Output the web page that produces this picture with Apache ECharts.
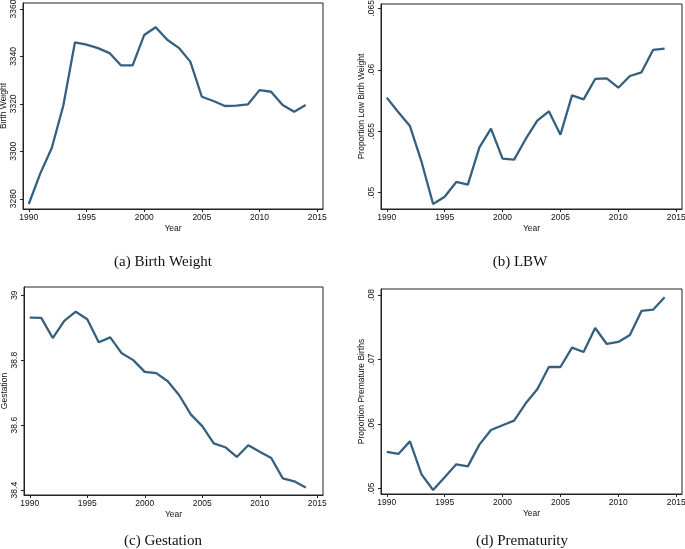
<!DOCTYPE html>
<html>
<head>
<meta charset="utf-8">
<script src="https://cdn.jsdelivr.net/npm/echarts@6/dist/echarts.min.js"></script>
<style>
html,body{margin:0;padding:0;background:#fff;}
#chart{width:685px;height:549px;}
</style>
</head>
<body>
<div id="chart"></div>
<script>
const years = [1990,1991,1992,1993,1994,1995,1996,1997,1998,1999,2000,2001,2002,2003,2004,2005,2006,2007,2008,2009,2010,2011,2012,2013,2014];
const birthWeight = [3277.8,3290.7,3301.5,3319.4,3345.9,3345.0,3343.5,3341.4,3336.2,3336.2,3349.0,3352.3,3347.0,3343.6,3337.8,3323.0,3321.2,3319.1,3319.3,3319.8,3325.8,3325.1,3319.5,3316.7,3319.5];
const lbw = [0.05773,0.05654,0.05542,0.05252,0.04908,0.04967,0.05087,0.05065,0.05369,0.05521,0.05277,0.05269,0.05437,0.05586,0.05662,0.05472,0.05792,0.05759,0.05925,0.05930,0.05854,0.05949,0.05979,0.06161,0.06172];
const gestation = [38.931,38.930,38.868,38.921,38.949,38.926,38.855,38.870,38.821,38.800,38.764,38.760,38.735,38.692,38.633,38.597,38.544,38.532,38.502,38.538,38.518,38.499,38.436,38.427,38.408];
const premature = [0.05564,0.05533,0.05729,0.05217,0.04974,0.05171,0.05372,0.05341,0.05678,0.05905,0.05978,0.06050,0.06319,0.06536,0.06883,0.06883,0.07183,0.07116,0.07488,0.07240,0.07271,0.07379,0.07752,0.07772,0.07964];

const xTicks = [1990,1995,2000,2005,2010,2015];
const bwTicks = [3280,3300,3320,3340,3360];
const lbwTicks = [0.05,0.055,0.06,0.065];
const gestTicks = [38.4,38.6,38.8,39];
const premTicks = [0.05,0.06,0.07,0.08];

const yTitles = ['Birth Weight','Proportion Low Birth Weight','Gestation','Proportion Premature Births'];
const captions = ['(a) Birth Weight','(b) LBW','(c) Gestation','(d) Prematurity'];

const seriesValues = [birthWeight, lbw, gestation, premature];
const yTickSets = [bwTicks, lbwTicks, gestTicks, premTicks];
const yRanges = [[3275.7,3362.5],[0.04867,0.06535],[38.385,39.025],[0.04912,0.08093]];

const grids = [
  {left:23, top:3, width:300, height:206},
  {left:381, top:4, width:301, height:205},
  {left:24, top:287, width:299, height:208},
  {left:381, top:289, width:301, height:205}
];
const capPos = [[163,262],[520,262],[163,541],[522,541]];

const axisColor = '#222';
const fontFam = '"Liberation Sans", Arial, sans-serif';
const fmtY = v => {
  let s = String(+v.toFixed(4));
  return s.replace(/^0\./, '.');
};

const option = {
  animation: false,
  backgroundColor: '#fff',
  grid: grids.map(g => Object.assign({show:true, borderColor:axisColor, borderWidth:1, backgroundColor:'transparent', containLabel:false, outerBoundsMode:'none'}, g)),
  xAxis: grids.map((g,i) => ({
    type:'value', gridIndex:i, min:1989.5, max:2015.5,
    name:'Year', nameLocation:'middle', nameGap:15,
    nameTextStyle:{fontFamily:fontFam, fontSize:8.5, color:'#111'},
    axisLine:{show:true, lineStyle:{color:axisColor, width:1}},
    axisTick:{show:true, length:3, customValues:xTicks, lineStyle:{color:axisColor}},
    axisLabel:{show:true, customValues:xTicks, margin:4, fontFamily:fontFam, fontSize:8.5, color:'#111', formatter: v => String(v)},
    splitLine:{show:false}
  })),
  yAxis: grids.map((g,i) => ({
    type:'value', gridIndex:i, min:yRanges[i][0], max:yRanges[i][1],
    name:yTitles[i], nameLocation:'middle', nameGap:14,
    nameTextStyle:{fontFamily:fontFam, fontSize:8.5, color:'#111'},
    axisLine:{show:true, lineStyle:{color:axisColor, width:1}},
    axisTick:{show:true, length:3, customValues:yTickSets[i], lineStyle:{color:axisColor}},
    axisLabel:{show:true, rotate:90, customValues:yTickSets[i], margin:5, fontFamily:fontFam, fontSize:8.5, color:'#111', formatter: fmtY},
    splitLine:{show:false}
  })),
  series: seriesValues.map((vals,i) => ({
    type:'line', xAxisIndex:i, yAxisIndex:i,
    data: years.map((y,k) => [y, vals[k]]),
    showSymbol:false, symbol:'none',
    lineStyle:{color:'#35607f', width:2.3},
    itemStyle:{color:'#35607f'}
  })),
  graphic: captions.map((c,i) => ({
    type:'text', x:capPos[i][0], y:capPos[i][1],
    style:{text:c, font:'15px "Liberation Serif", "Times New Roman", serif', fill:'#111', textAlign:'center', textVerticalAlign:'middle'}
  }))
};

const chart = echarts.init(document.getElementById('chart'), null, {renderer:'canvas'});
chart.setOption(option);
</script>
</body>
</html>
